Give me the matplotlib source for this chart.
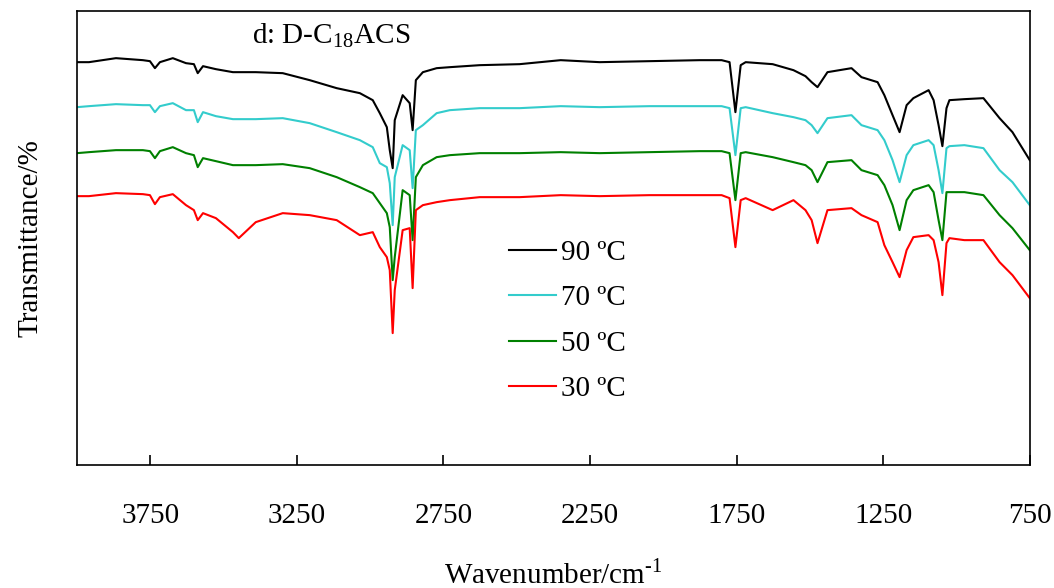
import matplotlib
matplotlib.use("Agg")
import matplotlib.pyplot as plt

plt.rcParams['font.family'] = ['Liberation Serif', 'DejaVu Serif']
plt.rcParams['mathtext.fontset'] = 'custom'
plt.rcParams['mathtext.rm'] = 'Liberation Serif'

# wavenumber grid (cm-1) shared by the four spectra
wavenumber = [4000, 3959, 3867, 3775, 3751, 3734, 3717, 3673, 3628, 3601,
              3588, 3570, 3526, 3468, 3448, 3390, 3298, 3206, 3114, 3035,
              2991, 2967, 2943, 2933, 2923, 2916, 2889, 2865, 2855, 2844,
              2820, 2773, 2728, 2626, 2490, 2350, 2217, 2047, 1876, 1801,
              1774, 1754, 1736, 1719, 1627, 1556, 1515, 1494, 1474, 1440,
              1358, 1324, 1269, 1246, 1218, 1194, 1170, 1147, 1095, 1078,
              1061, 1048, 1034, 1024, 973, 908, 853, 809, 750]

# transmittance (offset for display)
t_90 = [80.6, 80.6, 81.4, 81.0, 80.8, 79.4, 80.6, 81.4, 80.4, 80.2,
        78.4, 79.8, 79.2, 78.6, 78.6, 78.6, 78.4, 77.0, 75.4, 74.4,
        73.0, 70.4, 67.6, 63.0, 59.4, 69.0, 74.0, 72.4, 67.0, 77.0,
        78.6, 79.4, 79.6, 80.0, 80.2, 81.0, 80.6, 80.8, 81.0, 81.0,
        80.6, 70.6, 80.0, 80.6, 80.2, 79.0, 77.8, 76.6, 75.6, 78.6,
        79.4, 77.6, 76.6, 74.0, 70.0, 66.6, 72.0, 73.4, 75.0, 73.0,
        68.0, 63.8, 71.4, 73.0, 73.2, 73.4, 69.4, 66.6, 61.0]

t_70 = [71.6, 71.8, 72.2, 72.0, 72.0, 70.6, 71.8, 72.4, 71.0, 71.0,
        68.6, 70.6, 69.8, 69.2, 69.2, 69.2, 69.4, 68.4, 66.6, 65.0,
        63.6, 60.4, 59.6, 56.4, 48.0, 57.6, 64.0, 63.0, 55.4, 67.0,
        68.0, 70.4, 71.0, 71.4, 71.4, 71.8, 71.6, 71.8, 71.8, 71.8,
        71.4, 62.0, 71.4, 71.6, 70.4, 69.6, 69.0, 68.0, 66.4, 69.4,
        70.0, 68.0, 67.0, 65.0, 61.0, 56.6, 62.0, 64.0, 65.0, 64.0,
        59.0, 54.4, 63.4, 63.8, 64.0, 63.4, 59.0, 56.6, 52.0]

t_50 = [62.4, 62.6, 63.0, 63.0, 62.8, 61.4, 62.8, 63.6, 62.4, 62.0,
        59.6, 61.4, 60.8, 60.0, 60.0, 60.0, 60.2, 59.4, 57.6, 55.6,
        54.4, 52.4, 50.4, 47.6, 37.0, 41.6, 55.0, 54.0, 45.0, 57.6,
        60.0, 61.6, 62.0, 62.4, 62.4, 62.6, 62.4, 62.6, 62.8, 62.8,
        62.4, 53.0, 62.4, 62.6, 61.6, 60.6, 60.0, 59.0, 56.6, 60.6,
        61.0, 59.0, 58.0, 56.0, 52.0, 47.0, 53.0, 55.0, 56.0, 54.6,
        49.0, 45.0, 54.6, 54.6, 54.6, 54.0, 50.0, 47.4, 43.0]

t_30 = [53.8, 53.8, 54.4, 54.2, 54.0, 52.2, 53.6, 54.2, 52.0, 51.0,
        49.0, 50.4, 49.4, 46.6, 45.4, 48.6, 50.4, 50.0, 49.0, 46.0,
        46.6, 43.6, 41.6, 39.0, 26.4, 35.0, 47.0, 47.4, 35.4, 51.0,
        52.0, 52.6, 53.0, 53.6, 53.6, 54.0, 53.8, 54.0, 54.0, 54.0,
        53.4, 43.6, 53.0, 53.4, 51.0, 53.0, 51.0, 49.0, 44.4, 51.0,
        51.4, 50.0, 48.6, 44.0, 40.6, 37.6, 43.0, 45.6, 46.0, 45.0,
        40.6, 34.0, 44.4, 45.4, 45.0, 45.0, 40.6, 38.0, 33.4]

labels = ['90 ºC', '70 ºC', '50 ºC', '30 ºC']
colors = ['black', '#33CCCC', 'green', 'red']
series = [t_90, t_70, t_50, t_30]

fig = plt.figure(figsize=(10.54, 5.88), dpi=100)
ax = fig.add_axes([0.073, 0.209, 0.904, 0.772])

for t, c, lab in zip(series, colors, labels):
    ax.plot(wavenumber, t, color=c, lw=1.5, label=lab)

ax.set_xlim(4000, 750)
ax.set_ylim(0, 90.8)
ax.set_xticks([3750, 3250, 2750, 2250, 1750, 1250, 750])
ax.set_yticks([])
ax.tick_params(axis='x', direction='in', length=7, width=1.2, pad=27, labelsize=21)
for s in ax.spines.values():
    s.set_linewidth(1.2)

ax.set_xlabel('Wavenumber/cm$^{\\mathregular{\\text{-1}}}$', fontsize=21, labelpad=22)
ax.set_ylabel('Transmittance/%', fontsize=21, labelpad=24)

ax.text(0.267, 0.947, 'd: D-C$_{\\mathregular{18}}$ACS', transform=ax.transAxes,
        ha='center', va='center', fontsize=21)

ax.legend(loc='upper left', bbox_to_anchor=(0.438, 0.529), frameon=False,
          fontsize=21, borderpad=0, handlelength=1.6, handletextpad=0.2,
          labelspacing=0.65)

fig.savefig('out.png', dpi=100)
